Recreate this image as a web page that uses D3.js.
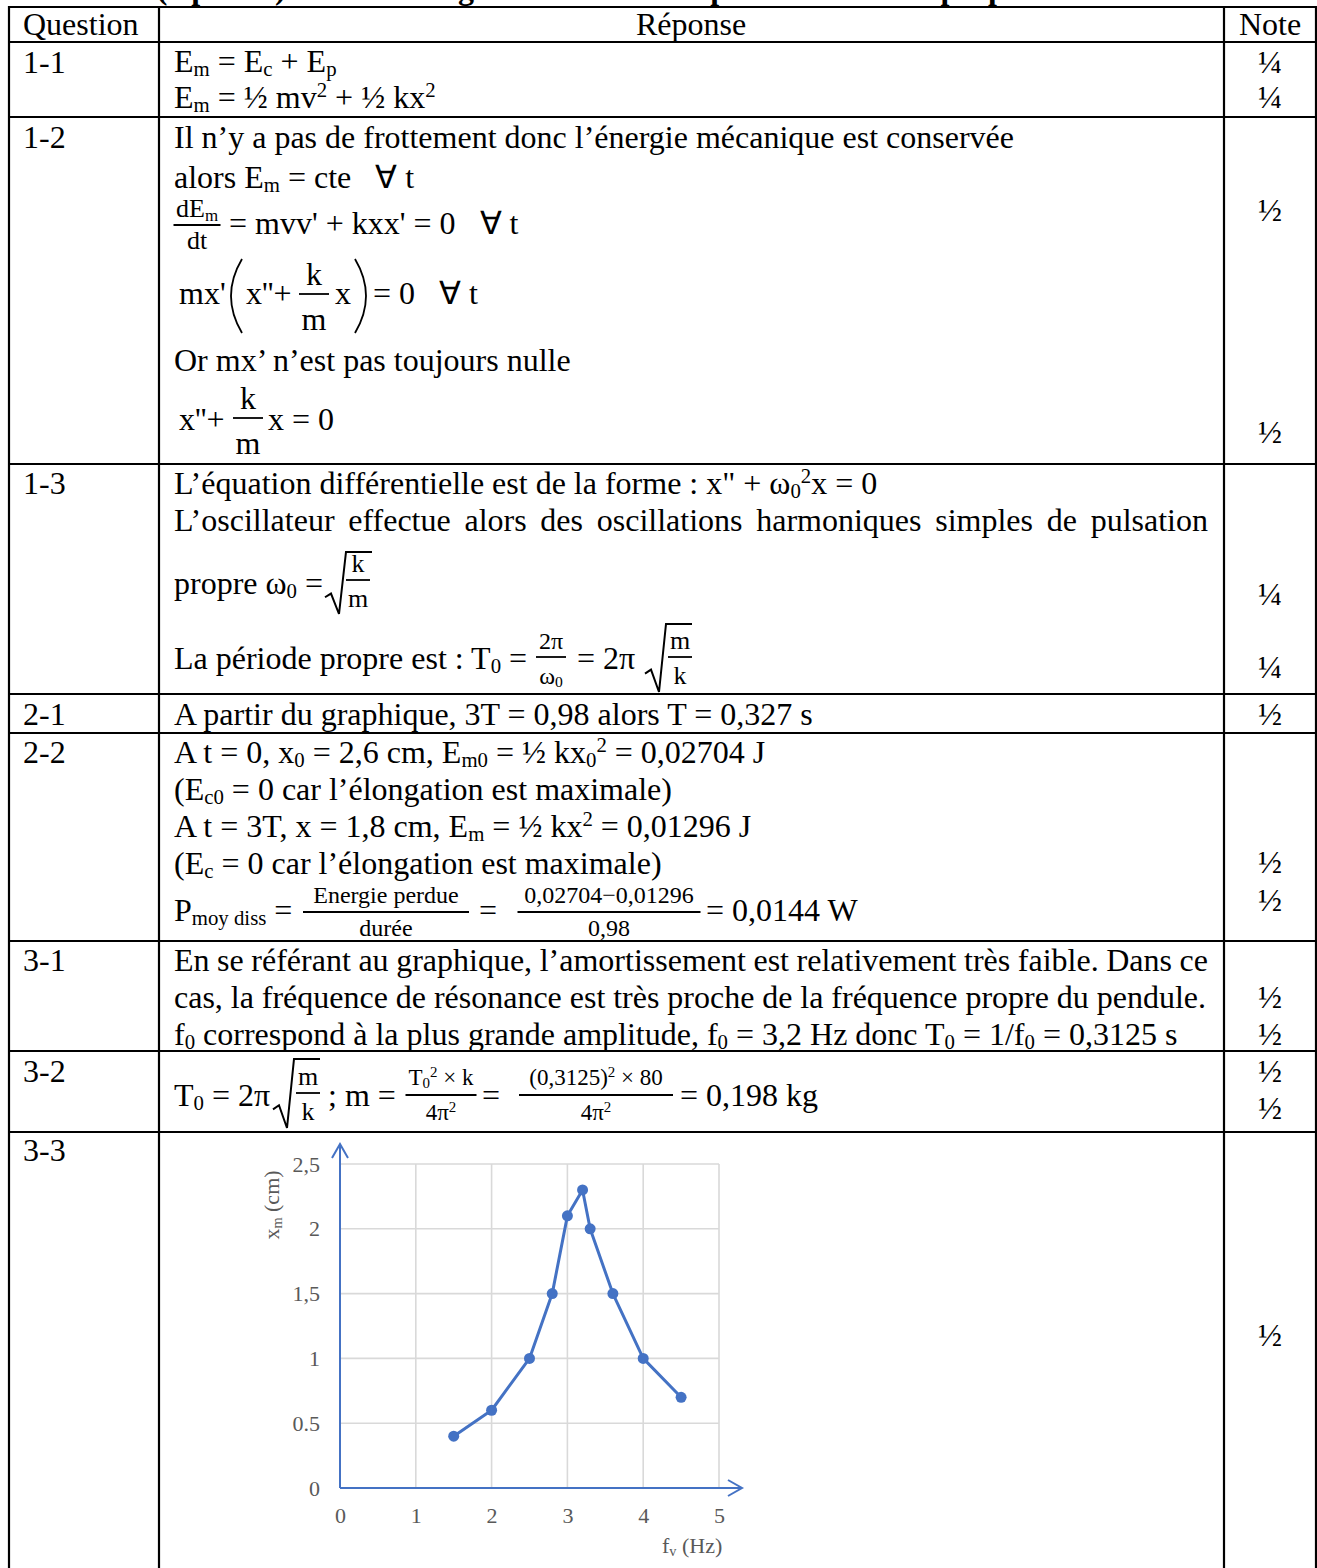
<!DOCTYPE html>
<html><head><meta charset="utf-8">
<script src="https://cdn.jsdelivr.net/npm/d3@7"></script>
<style>
html,body{margin:0;padding:0;background:#fff;}
svg{display:block;font-family:"Liberation Serif","Times New Roman",serif;}
text{white-space:pre;}
</style></head>
<body><svg id="s" width="1317" height="1568"></svg>
<script>
// ---------- DATA ----------
const freq = [1.5, 2, 2.5, 2.8, 3, 3.2, 3.3, 3.6, 4, 4.5];          // f_v (Hz)
const amp  = [0.4, 0.6, 1, 1.5, 2.1, 2.3, 2.0, 1.5, 1.0, 0.7];      // x_m (cm)
const xTickValues = [0, 1, 2, 3, 4, 5];
const xTickLabels = ["0", "1", "2", "3", "4", "5"];
const yTickValues = [0, 0.5, 1, 1.5, 2, 2.5];
const yTickLabels = ["0", "0.5", "1", "1,5", "2", "2,5"];
const questions = ["1-1", "1-2", "1-3", "2-1", "2-2", "3-1", "3-2", "3-3"];
const headers = ["Question", "Réponse", "Note"];

// ---------- LAYOUT ----------
const svg = d3.select("#s");
const rowLines = [7, 42, 117, 464, 694, 733, 941, 1051, 1132];
const colLines = [9, 159, 1224, 1316];
const qBase = [73, 148, 494, 725, 763, 971, 1082, 1161];
const X0 = 174, NOTE = 1270;

function parse(s) {
  const out = []; const re = /(_\{[^}]*\}|\^\{[^}]*\})/g; let last = 0, m;
  while ((m = re.exec(s))) {
    if (m.index > last) out.push([s.slice(last, m.index), ""]);
    out.push([m[0].slice(2, -1), m[0][0] === "_" ? "b" : "p"]);
    last = re.lastIndex;
  }
  if (last < s.length) out.push([s.slice(last), ""]);
  return out;
}
function rich(parent, x, y, s, o = {}) {
  const fs = o.fs || 32;
  const t = parent.append("text").attr("x", x).attr("y", y)
    .attr("font-size", fs).attr("text-anchor", o.anchor || "start")
    .attr("fill", o.fill || "#000");
  if (o.weight) t.attr("font-weight", o.weight);
  let cur = 0;
  parse(s).forEach(([str, k]) => {
    const off = k === "b" ? fs * 0.14 : k === "p" ? -fs * 0.34 : 0;
    const ts = t.append("tspan").attr("dy", off - cur).text(str);
    cur = off;
    if (k) ts.attr("font-size", fs * 0.65);
  });
  return t;
}
function justify(t, w) {
  const nat = t.node().getComputedTextLength();
  const gaps = (t.text().match(/ /g) || []).length;
  t.style("word-spacing", ((w - nat) / gaps) + "px");
}
function hline(x1, x2, yy, sw = 1.6) {
  svg.append("line").attr("x1", x1).attr("x2", x2).attr("y1", yy).attr("y2", yy)
    .attr("stroke", "#000").attr("stroke-width", sw);
}
function frac(cx, barY, num, den, fs, w, nb, db) {
  rich(svg, cx, barY - (nb || 9), num, { fs, anchor: "middle" });
  hline(cx - w / 2, cx + w / 2, barY, 1.8);
  rich(svg, cx, barY + (db || fs * 0.95), den, { fs, anchor: "middle" });
}
function radical(x0, yTop, yBot, x2) {
  const h = yBot - yTop;
  svg.append("path")
    .attr("d", `M${x0},${yBot - h * 0.27} L${x0 + 6},${yBot - h * 0.33} L${x0 + 14},${yBot} L${x0 + 21},${yTop} L${x2},${yTop}`)
    .attr("fill", "none").attr("stroke", "#000").attr("stroke-width", 2);
}

// partially visible heading above the table
rich(svg, 8, -1, "Exercice 2 (3 points)            Corrigé : éléments de réponse et barème proposé", { weight: "bold" });

// table grid
rowLines.forEach(yy => hline(colLines[0] - 1, 1317, yy, 2.2));
colLines.forEach(xx => svg.append("line").attr("x1", xx).attr("x2", xx).attr("y1", 6).attr("y2", 1568)
  .attr("stroke", "#000").attr("stroke-width", 2.2));

// headers
rich(svg, 23, 35, headers[0]);
rich(svg, 691, 35, headers[1], { anchor: "middle" });
rich(svg, NOTE, 35, headers[2], { anchor: "middle" });
questions.forEach((q, i) => rich(svg, 23, qBase[i], q));

// notes
const notes = [["¼", 73], ["¼", 108], ["½", 221], ["½", 443], ["¼", 605], ["¼", 678], ["½", 725],
  ["½", 873], ["½", 911], ["½", 1008], ["½", 1045], ["½", 1082], ["½", 1119], ["½", 1346]];
notes.forEach(([n, yy]) => rich(svg, NOTE, yy, n, { anchor: "middle" }));

// 1-1
rich(svg, X0, 72, "E_{m} = E_{c} + E_{p}");
rich(svg, X0, 108, "E_{m} = ½ mv^{2} + ½ kx^{2}");

// 1-2
rich(svg, X0, 148, "Il n’y a pas de frottement donc l’énergie mécanique est conservée");
rich(svg, X0, 188, "alors E_{m} = cte   ∀ t");
frac(197, 225, "dE_{m}", "dt", 26, 47, 8, 24);
rich(svg, 229, 234, "= mvv' + kxx' = 0   ∀ t");
rich(svg, 179, 304, "mx'");
svg.append("path").attr("d", "M242,259 Q220,296 242,333").attr("fill", "none").attr("stroke", "#000").attr("stroke-width", 1.8);
rich(svg, 246, 304, "x''+");
frac(314, 294, "k", "m", 32, 30, 9, 36);
rich(svg, 335, 304, "x");
svg.append("path").attr("d", "M355,259 Q377,296 355,333").attr("fill", "none").attr("stroke", "#000").attr("stroke-width", 1.8);
rich(svg, 373, 304, "= 0   ∀ t");
rich(svg, X0, 371, "Or mx’ n’est pas toujours nulle");
rich(svg, 179, 430, "x''+");
frac(248, 418, "k", "m", 32, 30, 9, 36);
rich(svg, 268, 430, "x = 0");

// 1-3
rich(svg, X0, 494, "L’équation différentielle est de la forme : x\" + ω_{0}^{2}x = 0");
justify(rich(svg, X0, 531, "L’oscillateur effectue alors des oscillations harmoniques simples de pulsation"), 1034);
rich(svg, X0, 594, "propre ω_{0} =");
radical(325, 552, 614, 372);
frac(358, 580, "k", "m", 26, 24, 8, 27);
rich(svg, X0, 669, "La période propre est : T_{0} =");
frac(551, 657, "2π", "ω_{0}", 24, 30, 8, 27);
rich(svg, 577, 669, "= 2π");
radical(645, 624, 692, 692);
frac(680, 657, "m", "k", 26, 24, 8, 27);

// 2-1
rich(svg, X0, 725, "A partir du graphique, 3T = 0,98 alors T = 0,327 s");

// 2-2
rich(svg, X0, 763, "A t = 0, x_{0} = 2,6 cm, E_{m0} = ½ kx_{0}^{2} = 0,02704 J");
rich(svg, X0, 800, "(E_{c0} = 0 car l’élongation est maximale)");
rich(svg, X0, 837, "A t = 3T, x = 1,8 cm, E_{m} = ½ kx^{2} = 0,01296 J");
rich(svg, X0, 874, "(E_{c} = 0 car l’élongation est maximale)");
rich(svg, X0, 921, "P_{moy diss} =");
frac(386, 912, "Energie perdue", "durée", 24, 166, 9, 24);
rich(svg, 479, 921, "=");
frac(609, 912, "0,02704−0,01296", "0,98", 24, 183, 9, 24);
rich(svg, 706, 921, "= 0,0144 W");

// 3-1
justify(rich(svg, X0, 971, "En se référant au graphique, l’amortissement est relativement très faible. Dans ce"), 1034);
justify(rich(svg, X0, 1008, "cas, la fréquence de résonance est très proche de la fréquence propre du pendule."), 1032);
rich(svg, X0, 1045, "f_{0} correspond à la plus grande amplitude, f_{0} = 3,2 Hz donc T_{0} = 1/f_{0} = 0,3125 s");

// 3-2
rich(svg, X0, 1106, "T_{0} = 2π");
radical(273, 1059, 1128, 320);
frac(308, 1093, "m", "k", 26, 24, 8, 27);
rich(svg, 328, 1106, "; m =");
frac(441, 1095, "T_{0}^{2} × k", "4π^{2}", 23, 71, 10, 25);
rich(svg, 482, 1106, "=");
frac(596, 1095, "(0,3125)^{2} × 80", "4π^{2}", 23, 154, 10, 25);
rich(svg, 680, 1106, "= 0,198 kg");

// ---------- CHART (3-3) ----------
const blue = "#4472C4", grey = "#595959", gridC = "#d9d9d9";
const x = d3.scaleLinear().domain([0, 5]).range([340, 719]);
const y = d3.scaleLinear().domain([0, 2.5]).range([1488, 1164]);
const ch = svg.append("g");
ch.append("g").selectAll("line").data(xTickValues.slice(1)).join("line")
  .attr("x1", d => x(d)).attr("x2", d => x(d)).attr("y1", y(0)).attr("y2", y(2.5))
  .attr("stroke", gridC).attr("stroke-width", 1.6);
ch.append("g").selectAll("line").data(yTickValues.slice(1)).join("line")
  .attr("x1", x(0)).attr("x2", x(5)).attr("y1", d => y(d)).attr("y2", d => y(d))
  .attr("stroke", gridC).attr("stroke-width", 1.6);

const ax = ch.append("g").attr("transform", `translate(0,${y(0)})`)
  .call(d3.axisBottom(x).tickValues(xTickValues).tickFormat((d, i) => xTickLabels[i]).tickSize(0).tickPadding(19));
const ay = ch.append("g").attr("transform", `translate(${x(0)},0)`)
  .call(d3.axisLeft(y).tickValues(yTickValues).tickFormat((d, i) => yTickLabels[i]).tickSize(0).tickPadding(20));
[ax, ay].forEach(a => {
  a.select(".domain").remove();
  a.selectAll("text").attr("font-family", "Liberation Serif, serif").attr("font-size", 22).attr("fill", grey);
});
// axes with arrows
ch.append("path").attr("d", `M${x(0)},${y(0)} L${x(0)},1144 M${x(0) - 8},1158 L${x(0)},1144 L${x(0) + 8},1158`)
  .attr("fill", "none").attr("stroke", blue).attr("stroke-width", 2);
ch.append("path").attr("d", `M${x(0)},${y(0)} L742,${y(0)} M728,${y(0) - 8} L742,${y(0)} L728,${y(0) + 8}`)
  .attr("fill", "none").attr("stroke", blue).attr("stroke-width", 2);

const pts = freq.map((f, i) => [f, amp[i]]);
ch.append("path").datum(pts).attr("d", d3.line().x(d => x(d[0])).y(d => y(d[1])))
  .attr("fill", "none").attr("stroke", blue).attr("stroke-width", 3).attr("stroke-linejoin", "round");
ch.append("g").selectAll("circle").data(pts).join("circle")
  .attr("cx", d => x(d[0])).attr("cy", d => y(d[1])).attr("r", 5.5).attr("fill", blue);

// axis titles
rich(ch, 662, 1553, "f_{v} (Hz)", { fs: 22, fill: grey });
const yl = rich(ch, 0, 0, "x_{m} (cm)", { fs: 22, fill: grey, anchor: "middle" });
yl.attr("transform", "translate(279,1205) rotate(-90)");
</script></body></html>
